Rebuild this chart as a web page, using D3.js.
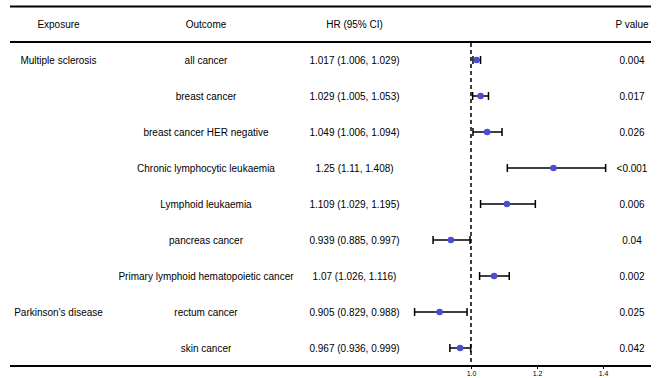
<!DOCTYPE html>
<html><head><meta charset="utf-8">
<script src="https://cdn.jsdelivr.net/npm/d3@7"></script>
<style>body{margin:0;background:#fff}svg text{font-family:"Liberation Sans",Arial,sans-serif}</style>
</head><body><svg id="c" width="661" height="378"></svg>
<script>
const exposures = ["Multiple sclerosis","","","","","","","Parkinson's disease",""];
const outcomes = ["all cancer","breast cancer","breast cancer HER negative","Chronic lymphocytic leukaemia","Lymphoid leukaemia","pancreas cancer","Primary lymphoid hematopoietic cancer","rectum cancer","skin cancer"];
const hrLabels = ["1.017 (1.006, 1.029)","1.029 (1.005, 1.053)","1.049 (1.006, 1.094)","1.25 (1.11, 1.408)","1.109 (1.029, 1.195)","0.939 (0.885, 0.997)","1.07 (1.026, 1.116)","0.905 (0.829, 0.988)","0.967 (0.936, 0.999)"];
const hr = [1.017,1.029,1.049,1.25,1.109,0.939,1.07,0.905,0.967];
const lower = [1.006,1.005,1.006,1.11,1.029,0.885,1.026,0.829,0.936];
const upper = [1.029,1.053,1.094,1.408,1.195,0.997,1.116,0.988,0.999];
const pvals = ["0.004","0.017","0.026","<0.001","0.006","0.04","0.002","0.025","0.042"];
const ticks = [1.0,1.2,1.4];

const svg = d3.select("#c");
const x = d3.scaleLinear().domain([1.0,1.4]).range([471,603]);
const y = d3.scaleBand().domain(d3.range(outcomes.length)).range([42,366]);
const fs = "10px";
const cols = [{x:58.5,t:"Exposure"},{x:206,t:"Outcome"},{x:354.5,t:"HR (95% CI)"},{x:632,t:"P value"}];

svg.append("line").attr("x1",10).attr("x2",651).attr("y1",6.5).attr("y2",6.5).attr("stroke","#000").attr("stroke-width",2);
svg.append("line").attr("x1",10).attr("x2",651).attr("y1",42).attr("y2",42).attr("stroke","#000").attr("stroke-width",2);

svg.selectAll("text.h").data(cols).join("text").attr("class","h")
  .attr("x",d=>d.x).attr("y",24).attr("dy","0.35em").attr("text-anchor","middle").attr("font-size",fs).text(d=>d.t);

const rowsData = d3.range(outcomes.length);
const cy = i => y(i)+y.bandwidth()/2;
const textCols = [[58.5,exposures],[206,outcomes],[354.5,hrLabels],[632,pvals]];
textCols.forEach(([cx,arr])=>{
  svg.append("g").selectAll("text").data(arr).join("text")
    .attr("x",cx).attr("y",(d,i)=>cy(i)).attr("dy","0.35em").attr("text-anchor","middle").attr("font-size",fs).text(d=>d);
});

// dashed ref line
svg.append("line").attr("x1",x(1)).attr("x2",x(1)).attr("y1",43).attr("y2",366)
  .attr("stroke","#000").attr("stroke-width",1.5).attr("stroke-dasharray","4,3");

const g = svg.append("g");
g.selectAll("line.ci").data(rowsData).join("line").attr("class","ci")
  .attr("x1",i=>x(lower[i])).attr("x2",i=>x(upper[i])).attr("y1",cy).attr("y2",cy).attr("stroke","#000").attr("stroke-width",1.5);
g.selectAll("line.lc").data(rowsData).join("line").attr("class","lc")
  .attr("x1",i=>x(lower[i])).attr("x2",i=>x(lower[i])).attr("y1",i=>cy(i)-4).attr("y2",i=>cy(i)+4).attr("stroke","#000").attr("stroke-width",1.5);
g.selectAll("line.uc").data(rowsData).join("line").attr("class","uc")
  .attr("x1",i=>x(upper[i])).attr("x2",i=>x(upper[i])).attr("y1",i=>cy(i)-4).attr("y2",i=>cy(i)+4).attr("stroke","#000").attr("stroke-width",1.5);
g.selectAll("circle").data(rowsData).join("circle")
  .attr("cx",i=>x(hr[i])).attr("cy",cy).attr("r",3.3).attr("fill","#4c4cd6");

// bottom axis
svg.append("line").attr("x1",10).attr("x2",651).attr("y1",366).attr("y2",366).attr("stroke","#000").attr("stroke-width",2);
const ax = svg.append("g").attr("transform","translate(0,366)")
  .call(d3.axisBottom(x).tickValues(ticks).tickFormat(d3.format(".1f")).tickSize(3).tickSizeOuter(0));
ax.select(".domain").remove();
ax.selectAll("text").attr("font-size","7px").attr("dy","0.5em").attr("font-family","Liberation Sans, Arial, sans-serif");
</script></body></html>
